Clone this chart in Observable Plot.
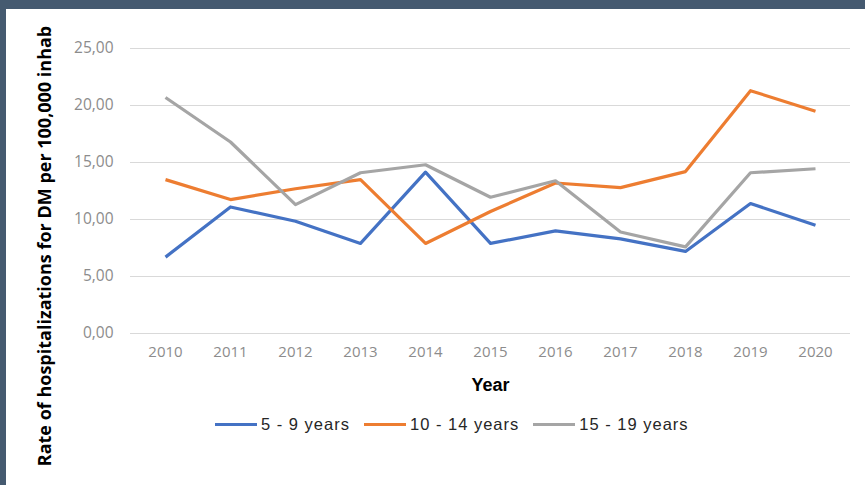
<!DOCTYPE html>
<html>
<head>
<meta charset="utf-8">
<script src="https://cdn.jsdelivr.net/npm/d3@7"></script>
<script src="https://cdn.jsdelivr.net/npm/@observablehq/plot@0.6"></script>
<style>
  html, body { margin: 0; padding: 0; background: #fff; }
  #frame {
    position: relative;
    width: 859px; height: 476px;
    border-top: 9px solid #455a70;
    border-left: 6px solid #455a70;
    background: #fff;
    overflow: hidden;
  }
  #legend {
    position: absolute; left: 209px; top: 406px;
    display: flex; align-items: center;
    font-family: "Liberation Sans", Arial, sans-serif;
    font-size: 16.5px; letter-spacing: 1px; color: #262626;
  }
  .item { display: flex; align-items: center; margin-right: 14px; }
  .sw { width: 42px; height: 3px; margin-right: 4px; }
</style>
</head>
<body>
<div id="frame"><div id="chart"></div><div id="legend"></div></div>
<script>
const years = [2010, 2011, 2012, 2013, 2014, 2015, 2016, 2017, 2018, 2019, 2020];
const seriesNames = ["5 - 9 years", "10 - 14 years", "15 - 19 years"];
const seriesColors = ["#4472C4", "#ED7D31", "#A5A5A5"];
const age5to9   = [6.7, 11.1, 9.85, 7.9, 14.15, 7.9, 9.0, 8.3, 7.2, 11.4, 9.5];
const age10to14 = [13.5, 11.75, 12.7, 13.5, 7.9, 10.7, 13.2, 12.8, 14.2, 21.3, 19.5];
const age15to19 = [20.7, 16.8, 11.3, 14.1, 14.8, 11.95, 13.4, 8.9, 7.6, 14.1, 14.45];
const yTicks = [0, 5, 10, 15, 20, 25];
const xTitle = "Year";
const yTitle = "Rate of hospitalizations for DM per 100,000 inhab";

const seriesValues = [age5to9, age10to14, age15to19];
const rows = [];
seriesNames.forEach((name, si) => {
  years.forEach((yr, i) => rows.push({year: String(yr), value: seriesValues[si][i], series: name}));
});

const tickFont = {fontFamily: "'Open Sans', sans-serif", fontSize: 15, fill: "#8c8c8c"};

const plot = Plot.plot({
  width: 859,
  height: 476,
  marginLeft: 124,
  marginRight: 15,
  marginTop: 39,
  marginBottom: 152,
  style: {background: "transparent", overflow: "visible"},
  x: {type: "point", domain: years.map(String), padding: 0.5},
  y: {domain: [0, 25]},
  color: {domain: seriesNames, range: seriesColors},
  marks: [
    Plot.gridY(yTicks, {stroke: "#d9d9d9", strokeOpacity: 1, strokeWidth: 1.2}),
    Plot.axisY(yTicks, {
      tickSize: 0, tickPadding: 17, label: null,
      tickFormat: d => d.toFixed(2).replace(".", ","),
      ...tickFont, fontSize: 15.5, letterSpacing: 1.4
    }),
    Plot.axisX({
      tickSize: 0, tickPadding: 13, label: null,
      ...tickFont, letterSpacing: 1.5
    }),
    Plot.lineY(rows, {
      x: "year", y: "value", z: "series", stroke: "series",
      strokeWidth: 3.2, strokeLinejoin: "round", strokeLinecap: "butt"
    }),
    Plot.text([xTitle], {
      text: d => d, frameAnchor: "bottom", dy: 57,
      fontFamily: "'Liberation Sans', Arial, sans-serif", fontWeight: "bold",
      fontSize: 18, fill: "#000"
    }),
    Plot.text([yTitle], {
      text: d => d, frameAnchor: "left", rotate: -90, textAnchor: "middle",
      dx: -85, dy: 55,
      fontFamily: "'Open Sans', sans-serif", fontWeight: "bold",
      fontSize: 18, fill: "#000"
    })
  ]
});
document.getElementById("chart").appendChild(plot);

const legend = document.getElementById("legend");
seriesNames.forEach((name, i) => {
  const item = document.createElement("div");
  item.className = "item";
  const sw = document.createElement("span");
  sw.className = "sw";
  sw.style.background = seriesColors[i];
  const lab = document.createElement("span");
  lab.textContent = name;
  item.appendChild(sw);
  item.appendChild(lab);
  legend.appendChild(item);
});
</script>
</body>
</html>
